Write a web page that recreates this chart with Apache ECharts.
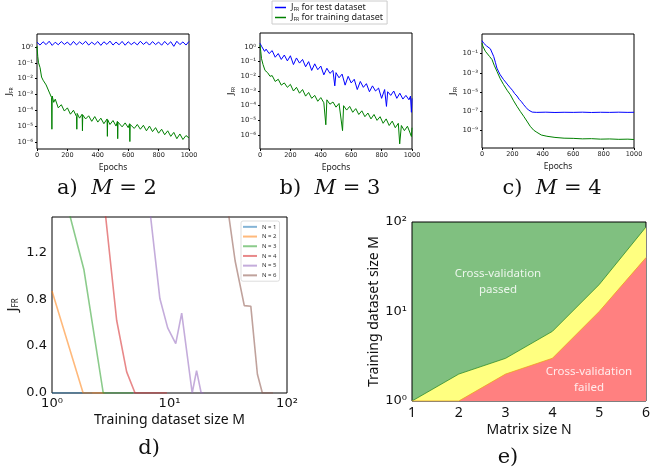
<!DOCTYPE html>
<html>
<head>
<meta charset="utf-8">
<script src="https://cdn.jsdelivr.net/npm/echarts@6/dist/echarts.min.js"></script>
<style>html,body{margin:0;background:#fff}#chart{width:653px;height:473px}</style>
</head>
<body>
<div id="chart"></div>
<script>
// ---- data (top panels: [epoch, log10 J_FR]) ----
var epochTicks = [0, 200, 400, 600, 800, 1000];
var abTicks = [-6, -5, -4, -3, -2, -1, 0];
var cTicks = [-9, -7, -5, -3, -1];

var aTest = [[0,0.30],[20,0.12],[40,0.33],[60,0.15],[80,0.36],[100,0.10],[120,0.30],[140,0.14],[160,0.34],[180,0.16],[200,0.31],[220,0.11],[240,0.35],[260,0.13],[280,0.32],[300,0.17],[320,0.36],[340,0.12],[360,0.30],[380,0.15],[400,0.34],[420,0.10],[440,0.33],[460,0.16],[480,0.37],[500,0.12],[520,0.31],[540,0.14],[560,0.35],[580,0.11],[600,0.33],[620,0.15],[640,0.30],[660,0.13],[680,0.36],[700,0.16],[720,0.32],[740,0.12],[760,0.34],[780,0.15],[800,0.31],[820,0.11],[840,0.35],[860,0.14],[880,0.33],[900,0.04],[920,0.36],[940,0.15],[960,0.32],[980,0.12],[1000,0.35]];
var aTrain = [[0,0.05],[5,-0.6],[10,-1.0],[20,-1.3],[30,-1.9],[40,-2.1],[50,-2.05],[60,-2.4],[70,-2.5],[80,-2.85],[90,-2.95],[96,-3.2],[98,-5.2],[100,-3.1],[110,-3.5],[120,-3.3],[140,-3.85],[160,-3.65],[180,-4.05],[200,-3.85],[220,-4.25],[240,-4.0],[260,-4.4],[262,-5.2],[264,-4.2],[280,-4.5],[297,-4.25],[299,-5.3],[301,-4.3],[320,-4.55],[340,-4.35],[360,-4.7],[380,-4.4],[400,-4.75],[420,-4.5],[440,-4.85],[461,-4.55],[463,-5.65],[465,-4.6],[480,-4.9],[500,-4.65],[520,-5.0],[529,-4.7],[531,-5.8],[533,-4.75],[560,-5.05],[580,-4.8],[600,-5.1],[609,-4.85],[611,-5.98],[613,-4.9],[640,-5.15],[660,-4.9],[680,-5.2],[700,-4.95],[720,-5.3],[740,-5.0],[760,-5.35],[780,-5.1],[800,-5.45],[820,-5.2],[840,-5.55],[860,-5.3],[880,-5.65],[900,-5.4],[920,-5.8],[940,-5.5],[960,-5.85],[980,-5.6],[1000,-5.75]];

var bTest = [[0,0.25],[10,0.05],[20,0.0],[30,-0.3],[40,-0.15],[60,-0.45],[80,-0.25],[100,-0.7],[120,-0.45],[140,-0.85],[160,-0.55],[180,-0.95],[200,-0.6],[220,-1.2],[240,-0.75],[260,-1.1],[280,-0.85],[300,-1.35],[320,-1.0],[340,-1.6],[360,-1.15],[380,-1.55],[400,-1.3],[420,-1.9],[440,-1.45],[460,-1.8],[480,-1.6],[492,-2.65],[500,-1.75],[520,-2.1],[540,-1.85],[560,-2.6],[580,-2.0],[600,-2.45],[620,-2.2],[640,-2.9],[660,-2.35],[680,-2.75],[700,-2.5],[720,-3.05],[740,-2.65],[760,-3.0],[780,-2.8],[800,-3.5],[820,-2.9],[832,-4.05],[840,-3.05],[860,-3.3],[880,-3.0],[900,-3.5],[920,-3.15],[940,-3.55],[960,-3.3],[980,-3.6],[990,-3.35],[996,-4.45],[1000,-3.5]];
var bTrain = [[0,0.15],[5,-0.3],[10,-0.8],[20,-1.2],[33,-1.6],[50,-1.75],[66,-2.0],[80,-1.95],[100,-2.35],[120,-2.2],[140,-2.6],[160,-2.45],[180,-2.75],[200,-2.55],[220,-3.0],[240,-2.75],[260,-3.15],[280,-2.9],[300,-3.35],[320,-3.1],[340,-3.5],[360,-3.3],[380,-3.7],[400,-3.45],[420,-3.8],[433,-5.3],[440,-3.6],[460,-3.9],[480,-3.75],[500,-4.1],[520,-3.85],[543,-5.7],[550,-4.0],[570,-4.3],[590,-4.05],[610,-4.45],[630,-4.2],[650,-4.6],[670,-4.35],[690,-4.75],[710,-4.5],[730,-4.9],[750,-4.6],[770,-5.0],[790,-4.75],[810,-5.2],[830,-4.9],[850,-5.35],[870,-5.05],[890,-5.5],[910,-5.2],[919,-6.6],[930,-5.35],[950,-5.7],[970,-5.4],[985,-5.8],[996,-6.1],[1000,-5.5]];

var cTest = [[0,0.35],[10,0.1],[20,0.2],[30,-0.2],[40,-0.35],[55,-0.5],[66,-0.7],[77,-1.3],[88,-1.9],[98,-2.5],[110,-2.9],[120,-3.2],[130,-3.35],[142,-3.7],[155,-3.95],[170,-4.25],[186,-4.55],[200,-4.8],[215,-5.15],[230,-5.4],[245,-5.75],[260,-6.0],[274,-6.3],[290,-6.6],[305,-6.85],[317,-7.0],[330,-7.07],[360,-7.1],[420,-7.08],[480,-7.11],[540,-7.09],[600,-7.1],[660,-7.08],[720,-7.11],[780,-7.09],[840,-7.1],[900,-7.08],[960,-7.1],[1000,-7.09]];
var cTrain = [[0,0.1],[5,-0.2],[11,-0.4],[22,-0.75],[33,-0.95],[50,-1.3],[66,-1.62],[80,-2.2],[98,-2.83],[120,-3.6],[142,-4.22],[165,-4.8],[186,-5.26],[208,-5.9],[230,-6.47],[252,-7.0],[274,-7.5],[295,-8.0],[317,-8.54],[340,-8.95],[361,-9.17],[390,-9.45],[427,-9.58],[480,-9.7],[540,-9.78],[600,-9.8],[660,-9.85],[720,-9.83],[780,-9.88],[840,-9.86],[900,-9.9],[960,-9.88],[1000,-9.92]];

// ---- panel d: M values and J_FR ----
var dNames = ['N = 1', 'N = 2', 'N = 3', 'N = 4', 'N = 5', 'N = 6'];
var dColors = ['rgba(31,119,180,0.55)', 'rgba(255,127,14,0.55)', 'rgba(44,160,44,0.55)',
  'rgba(214,39,40,0.55)', 'rgba(148,103,189,0.55)', 'rgba(140,86,75,0.55)'];
var n1M = [1, 1.5, 2.2], n1J = [0, 0, 0];
var n2M = [1, 1.84, 2.8], n2J = [0.87, 0, 0];
var n3M = [1, 1.87, 2.73, 4.9], n3J = [2.1, 1.05, 0, 0];
var n4M = [2.3, 3.55, 4.32, 5.09, 9.5], n4J = [2.4, 0.62, 0.18, 0, 0];
var n5M = [5.7, 8.28, 9.65, 11.3, 12.7, 15.6, 17.0, 18.6, 19.5], n5J = [2.24, 0.805, 0.555, 0.42, 0.68, 0, 0.19, 0, 0];
var n6M = [28, 36.2, 43.3, 49.2, 56.0, 61.7, 76], n6J = [1.92, 1.125, 0.745, 0.74, 0.16, 0, 0];
var dTicksX = [0, 1, 2];
var dTicksY = [0, 0.4, 0.8, 1.2];

// ---- panel e ----
var matrixN = [1, 2, 3, 4, 5, 6];
var passedM = [1, 2, 3, 6, 20, 88];   // upper boundary
var failedM = [1, 1, 2, 3, 10, 40];   // lower boundary
var eTicksY = [0, 1, 2];

// ---- helpers ----
var SUP = {'0':'⁰','1':'¹','2':'²','3':'³','4':'⁴','5':'⁵','6':'⁶','7':'⁷','8':'⁸','9':'⁹','-':'⁻'};
function pow10(v) { return '10' + String(Math.round(v)).split('').map(function (c) { return SUP[c]; }).join(''); }
function logPairs(m, j) { return m.map(function (v, i) { return [Math.log10(v), j[i]]; }); }

var tickFont = 'DejaVu Sans';
var nameFont = 'Noto Sans';
var serif = 'DejaVu Serif';
var jName = '{j|J}{s|FR}';
function jRich(big, small) {
  return { j: { fontSize: big, fontFamily: nameFont, color: '#222' },
           s: { fontSize: small, fontFamily: nameFont, color: '#222', verticalAlign: 'bottom' } };
}

function topX(idx) {
  return {
    gridIndex: idx, type: 'value', min: 0, max: 1000,
    name: 'Epochs', nameLocation: 'middle', nameGap: 14,
    nameTextStyle: { fontSize: 8.5, fontFamily: nameFont, color: '#222' },
    axisLine: { show: false, onZero: false }, splitLine: { show: false },
    axisTick: { show: true, length: 2, customValues: epochTicks, lineStyle: { color: '#000' } },
    axisLabel: { customValues: epochTicks, fontSize: 6.5, margin: 3, fontFamily: tickFont, color: '#222',
      formatter: function (v) { return String(v); } }
  };
}
function topY(idx, min, max, ticks, gap) {
  return {
    gridIndex: idx, type: 'value', min: min, max: max,
    name: jName, nameLocation: 'middle', nameGap: gap, nameRotate: 90,
    nameTextStyle: { rich: jRich(9, 5) },
    axisLine: { show: false, onZero: false }, splitLine: { show: false },
    axisTick: { show: true, length: 2, customValues: ticks, lineStyle: { color: '#000' } },
    axisLabel: { customValues: ticks, fontSize: 7, margin: 4, fontFamily: tickFont, color: '#222', formatter: pow10 }
  };
}
function lineS(name, data, color, xi) {
  return { name: name, type: 'line', xAxisIndex: xi, yAxisIndex: xi, data: data, showSymbol: false,
    lineStyle: { color: color, width: 1 }, itemStyle: { color: color }, animation: false };
}
function caption(x, y, letter, m) {
  return { type: 'text', x: x, y: y, style: { text: '{n|' + letter + ')  }{i|M}{n| = ' + m + '}', align: 'center', verticalAlign: 'middle',
    rich: { n: { fontSize: 21, fontFamily: serif, fill: '#111' },
            i: { fontSize: 21, fontStyle: 'italic', fontFamily: serif, fill: '#111' } } } };
}

var frame = { show: true, borderColor: '#000', borderWidth: 1, backgroundColor: '#fff' };

var dSeries = [[n1M, n1J], [n2M, n2J], [n3M, n3J], [n4M, n4J], [n5M, n5J], [n6M, n6J]].map(function (p, i) {
  return { name: dNames[i], type: 'line', xAxisIndex: 3, yAxisIndex: 3, data: logPairs(p[0], p[1]),
    showSymbol: false, lineStyle: { color: dColors[i], width: 1.6 }, itemStyle: { color: dColors[i] }, animation: false };
});

var chart = echarts.init(document.getElementById('chart'));
chart.setOption({
  animation: false,
  grid: [
    Object.assign({ left: 37, top: 34, width: 152, height: 115 }, frame),
    Object.assign({ left: 260, top: 33, width: 152, height: 116 }, frame),
    Object.assign({ left: 482, top: 34, width: 152, height: 114 }, frame),
    Object.assign({ left: 52, top: 217, width: 235, height: 176 }, frame),
    { show: true, left: 412, top: 222, width: 239, height: 179, borderColor: '#000', borderWidth: 1, backgroundColor: '#80c080' }
  ],
  legend: [
    { data: ['test', 'train'], orient: 'vertical', left: 272, top: 1, padding: [2, 4, 2, 3],
      borderColor: '#ccc', borderWidth: 1, itemGap: 1, itemWidth: 11, itemHeight: 1.5, icon: 'rect',
      formatter: function (n) { return '{j|J}{s|FR}{t| for ' + (n === 'test' ? 'test' : 'training') + ' dataset}'; },
      textStyle: { rich: { j: { fontSize: 9, fontFamily: nameFont, color: '#222' },
        s: { fontSize: 5, fontFamily: nameFont, color: '#222', verticalAlign: 'bottom' },
        t: { fontSize: 9, fontFamily: nameFont, color: '#222' } } } },
    { data: dNames, orient: 'vertical', left: 241, top: 221, padding: [2, 3, 2, 2],
      borderColor: '#ddd', borderWidth: 1, borderRadius: 2, itemGap: 2, itemWidth: 14, itemHeight: 2, icon: 'rect',
      textStyle: { fontSize: 6, lineHeight: 7.7, fontFamily: nameFont, color: '#333' } }
  ],
  xAxis: [
    topX(0), topX(1), topX(2),
    { gridIndex: 3, type: 'value', min: 0, max: 2,
      name: 'Training dataset size M', nameLocation: 'middle', nameGap: 20,
      nameTextStyle: { fontSize: 14, fontFamily: nameFont, color: '#111' },
      axisLine: { show: false, onZero: false }, splitLine: { show: false }, axisTick: { show: false },
      axisLabel: { customValues: dTicksX, fontSize: 13, margin: 4, fontFamily: tickFont, color: '#111', formatter: pow10 } },
    { gridIndex: 4, type: 'value', min: 1, max: 6, interval: 1,
      name: 'Matrix size N', nameLocation: 'middle', nameGap: 22,
      nameTextStyle: { fontSize: 14, fontFamily: nameFont, color: '#111' },
      axisLine: { show: false, onZero: false }, splitLine: { show: false }, axisTick: { show: false },
      axisLabel: { fontSize: 14, margin: 5, fontFamily: nameFont, color: '#111' } }
  ],
  yAxis: [
    topY(0, -6.45, 0.82, abTicks, 22),
    topY(1, -6.95, 0.95, abTicks, 24),
    topY(2, -10.8, 1.04, cTicks, 24),
    { gridIndex: 3, type: 'value', min: 0, max: 1.5,
      name: jName, nameLocation: 'middle', nameGap: 32, nameRotate: 90,
      nameTextStyle: { rich: jRich(15, 8) },
      axisLine: { show: false, onZero: false }, splitLine: { show: false }, axisTick: { show: false },
      axisLabel: { customValues: dTicksY, fontSize: 13, margin: 5, fontFamily: tickFont, color: '#111',
        formatter: function (v) { return v.toFixed(1); } } },
    { gridIndex: 4, type: 'value', min: 0, max: 2,
      name: 'Training dataset size M', nameLocation: 'middle', nameGap: 30, nameRotate: 90,
      nameTextStyle: { fontSize: 14, fontFamily: nameFont, color: '#111' },
      axisLine: { show: false, onZero: false }, splitLine: { show: false }, axisTick: { show: false },
      axisLabel: { customValues: eTicksY, fontSize: 13, margin: 5, fontFamily: tickFont, color: '#111', formatter: pow10 } }
  ],
  series: [
    lineS('test', aTest, '#0000ff', 0), lineS('train', aTrain, '#008000', 0),
    lineS('test', bTest, '#0000ff', 1), lineS('train', bTrain, '#008000', 1),
    lineS('test', cTest, '#0000ff', 2), lineS('train', cTrain, '#008000', 2)
  ].concat(dSeries).concat([
    { name: 'boundary-upper', type: 'line', xAxisIndex: 4, yAxisIndex: 4, showSymbol: false, animation: false,
      data: matrixN.map(function (n, i) { return [n, Math.log10(passedM[i])]; }),
      lineStyle: { color: '#2e8b2e', width: 0.8 }, areaStyle: { color: '#ffff80', opacity: 1 } },
    { name: 'boundary-lower', type: 'line', xAxisIndex: 4, yAxisIndex: 4, showSymbol: false, animation: false,
      data: matrixN.map(function (n, i) { return [n, Math.log10(failedM[i])]; }),
      lineStyle: { color: '#f0a020', width: 0.8 }, areaStyle: { color: '#ff8080', opacity: 1 } }
  ]),
  graphic: [
    caption(107, 189, 'a', 2),
    caption(330, 189, 'b', 3),
    caption(552, 189, 'c', 4),
    { type: 'text', x: 149, y: 449, style: { text: 'd)', align: 'center', verticalAlign: 'middle', fontSize: 21, fontFamily: serif, fill: '#111' } },
    { type: 'text', x: 508, y: 458, style: { text: 'e)', align: 'center', verticalAlign: 'middle', fontSize: 21, fontFamily: serif, fill: '#111' } },
    { type: 'text', x: 498, y: 282, z: 100, style: { text: 'Cross-validation\npassed', align: 'center', verticalAlign: 'middle', lineHeight: 16, fontSize: 11.5, fontFamily: nameFont, fill: 'rgba(255,255,255,0.85)' } },
    { type: 'text', x: 589, y: 380, z: 100, style: { text: 'Cross-validation\nfailed', align: 'center', verticalAlign: 'middle', lineHeight: 16, fontSize: 11.5, fontFamily: nameFont, fill: 'rgba(255,255,255,0.85)' } }
  ]
});
</script>
</body>
</html>
